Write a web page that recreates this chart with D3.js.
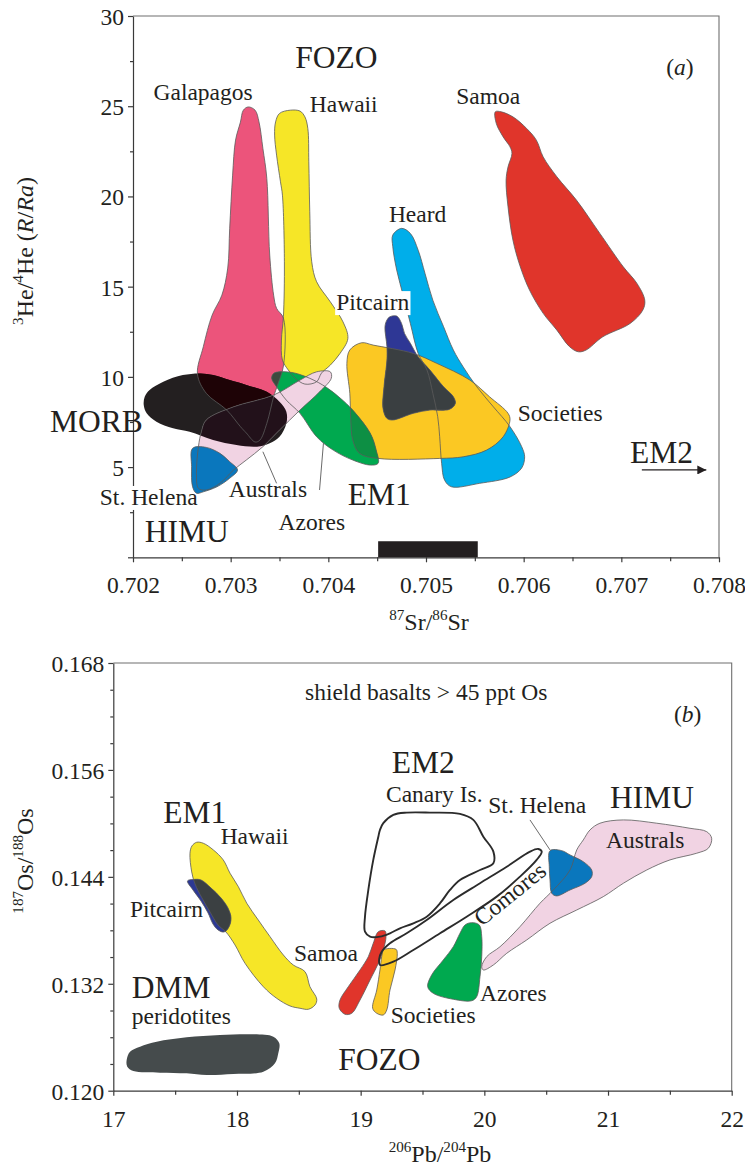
<!DOCTYPE html>
<html><head><meta charset="utf-8">
<script src="https://cdn.jsdelivr.net/npm/d3@7"></script>
<style>
html,body{margin:0;padding:0;background:#fff;}
svg{display:block;}
svg text{font-family:"Liberation Serif","Times New Roman",serif;}
</style></head><body>
<svg id="chart" width="745" height="1167"></svg>
<script>
// ---------- panel (a): 3He/4He vs 87Sr/86Sr ----------
const srTicks = [0.702, 0.703, 0.704, 0.705, 0.706, 0.707, 0.708];
const srMinor = [0.7025, 0.7035, 0.7045, 0.7055, 0.7065, 0.7075];
const heTicks = [0, 5, 10, 15, 20, 25, 30];
const heMinor = [2.5, 7.5, 12.5, 17.5, 22.5, 27.5];

const galapagosA = [[0.70313,24.78],[0.70318,24.96],[0.70325,24.78],[0.70329,24.13],[0.70333,22.66],[0.70337,21.0],[0.70340,16.75],[0.70344,14.53],[0.70347,13.8],[0.70354,13.26],[0.70354,10.6],[0.70348,9.55],[0.70344,8.9],[0.70337,7.42],[0.70330,6.5],[0.70325,6.39],[0.70316,6.89],[0.70310,7.24],[0.70296,8.16],[0.70275,9.09],[0.70266,10.16],[0.70272,11.67],[0.70281,13.42],[0.70291,14.53],[0.70297,16.03],[0.70299,18.24],[0.70302,21.18],[0.70305,23.12],[0.70310,24.12]];
const hawaiiA = [[0.70350,24.6],[0.70361,24.78],[0.70371,24.73],[0.70376,24.41],[0.70379,23.77],[0.70380,21.92],[0.70381,19.15],[0.70383,16.38],[0.70388,15.27],[0.70402,14.16],[0.70415,13.05],[0.70420,12.13],[0.70412,11.3],[0.70402,10.65],[0.70393,10.21],[0.70388,9.73],[0.70376,9.6],[0.70366,9.93],[0.70359,10.38],[0.70353,10.93],[0.70352,12.04],[0.70354,13.33],[0.70355,16.38],[0.70353,20.07],[0.70351,20.81],[0.70347,22.29],[0.70345,23.4],[0.70346,24.13]];
const morbA = [[0.70212,8.9],[0.70217,9.27],[0.70231,9.73],[0.70251,10.1],[0.70269,10.19],[0.70282,10.1],[0.70299,9.82],[0.70316,9.55],[0.70337,9.17],[0.70350,8.62],[0.70357,8.07],[0.70357,7.42],[0.70350,6.68],[0.70340,6.32],[0.70327,6.13],[0.70306,6.22],[0.70282,6.5],[0.70258,6.96],[0.70241,7.15],[0.70224,7.51],[0.70214,7.98],[0.70211,8.44]];
const australsA = [[0.70275,7.61],[0.70303,8.34],[0.70344,8.99],[0.70371,9.82],[0.70388,10.28],[0.70402,10.28],[0.70403,9.92],[0.70391,9.17],[0.70371,8.16],[0.70350,7.05],[0.70333,6.13],[0.70316,5.39],[0.70303,4.84],[0.70289,4.1],[0.70275,3.73],[0.70267,3.82],[0.70265,4.65],[0.70267,6.13],[0.70270,6.96]];
const stHelenaA = [[0.70261,6.04],[0.70275,6.09],[0.70289,5.76],[0.70299,5.3],[0.70307,4.84],[0.70299,4.38],[0.70286,3.91],[0.70272,3.63],[0.70265,3.55],[0.70261,3.91],[0.70260,5.02]];
const azoresA = [[0.70344,10.19],[0.70350,10.28],[0.70364,10.23],[0.70381,9.92],[0.70398,9.42],[0.70412,8.83],[0.70425,8.16],[0.70443,6.87],[0.70449,5.94],[0.70451,5.21],[0.70443,5.11],[0.70425,5.39],[0.70405,5.94],[0.70388,6.68],[0.70371,7.98],[0.70357,8.71],[0.70347,9.45],[0.70342,9.92]];
const societiesA = [[0.70434,11.89],[0.70422,11.49],[0.70419,10.75],[0.70422,9.09],[0.70423,7.61],[0.70425,6.5],[0.70432,5.76],[0.70451,5.48],[0.70514,5.48],[0.70538,5.57],[0.70562,5.94],[0.70579,6.68],[0.70586,7.61],[0.70584,7.98],[0.70565,8.9],[0.70545,9.82],[0.70511,10.75],[0.70487,11.3],[0.70446,11.76]];
const heardA = [[0.70475,18.23],[0.70484,17.95],[0.70492,17.02],[0.70499,15.73],[0.70507,14.25],[0.70518,12.78],[0.70528,11.49],[0.70538,10.56],[0.70552,9.45],[0.70569,8.34],[0.70586,7.24],[0.70598,6.13],[0.70601,5.57],[0.70598,4.95],[0.70586,4.45],[0.70555,4.1],[0.70526,3.91],[0.70519,4.28],[0.70516,5.21],[0.70514,6.68],[0.70512,7.79],[0.70507,9.09],[0.70501,10.38],[0.70492,11.3],[0.70484,12.96],[0.70477,14.44],[0.70470,15.92],[0.70466,17.21],[0.70466,17.86]];
const pitcairnA = [[0.70463,13.33],[0.70470,13.37],[0.70475,12.96],[0.70478,12.41],[0.70484,11.86],[0.70492,11.11],[0.70504,10.38],[0.70518,9.45],[0.70528,8.9],[0.70530,8.53],[0.70524,8.2],[0.70504,8.16],[0.70487,7.98],[0.70466,7.61],[0.70460,7.7],[0.70456,8.25],[0.70457,9.45],[0.70460,10.93],[0.70460,11.67],[0.70458,12.78],[0.70460,13.15]];
const samoaA = [[0.70571,24.69],[0.70577,24.69],[0.70589,24.41],[0.70603,23.77],[0.70613,23.12],[0.70620,22.19],[0.70634,21.09],[0.70654,19.8],[0.70678,17.95],[0.70702,16.1],[0.70716,15.18],[0.70724,14.25],[0.70722,13.7],[0.70709,12.96],[0.70681,12.22],[0.70664,11.49],[0.70656,11.39],[0.70647,11.67],[0.70634,12.59],[0.70620,13.52],[0.70606,14.81],[0.70596,16.19],[0.70589,17.58],[0.70584,19.42],[0.70582,20.9],[0.70584,21.64],[0.70588,22.38],[0.70586,22.75],[0.70579,23.3],[0.70572,24.04]];

// FOZO range bar on the Sr axis
const fozoSrRange = [0.70451, 0.70553];
const fozoBarHe = 0.89;
const em2ArrowA = [[0.70721,4.84],[0.70787,4.84]];
const leadersA = [
  [[0.70333,5.85],[0.70347,4.1]],   // Australs
  [[0.70395,6.32],[0.70391,3.73]]   // Azores
];

// ---------- panel (b): 187Os/188Os vs 206Pb/204Pb ----------
const pbTicks = [17, 18, 19, 20, 21, 22];
const pbMinor = [17.5, 18.5, 19.5, 20.5, 21.5];
const osTicks = [0.120, 0.132, 0.144, 0.156, 0.168];
const osMinor = [0.123,0.126,0.129,0.135,0.138,0.141,0.147,0.150,0.153,0.159,0.162,0.165];

const hawaiiB = [[17.674,0.14788],[17.728,0.14777],[17.809,0.14702],[17.889,0.14590],[17.944,0.14440],[18.011,0.14290],[18.079,0.14104],[18.172,0.13916],[18.267,0.13729],[18.375,0.13523],[18.455,0.13411],[18.550,0.13336],[18.590,0.13167],[18.645,0.13029],[18.631,0.12962],[18.577,0.12914],[18.510,0.12925],[18.429,0.12951],[18.321,0.13037],[18.213,0.13167],[18.065,0.13430],[17.984,0.13636],[17.911,0.13781],[17.847,0.13860],[17.782,0.14006],[17.717,0.14163],[17.661,0.14320],[17.634,0.14455],[17.620,0.14665],[17.636,0.14747]];
const pitcairnB = [[17.600,0.14354],[17.652,0.14371],[17.709,0.14365],[17.790,0.14275],[17.871,0.14163],[17.927,0.14051],[17.952,0.13939],[17.935,0.13838],[17.895,0.13781],[17.847,0.13804],[17.806,0.13871],[17.766,0.13995],[17.709,0.14129],[17.644,0.14253]];
const dmmB = [[17.108,0.12345],[17.135,0.12438],[17.216,0.12494],[17.351,0.12550],[17.593,0.12599],[17.863,0.12625],[18.132,0.12633],[18.294,0.12606],[18.342,0.12532],[18.334,0.12420],[18.307,0.12308],[18.213,0.12213],[17.970,0.12187],[17.755,0.12176],[17.593,0.12195],[17.378,0.12202],[17.162,0.12221],[17.113,0.12269]];
const samoaB = [[19.143,0.13785],[19.197,0.13793],[19.205,0.13729],[19.183,0.13579],[19.143,0.13430],[19.076,0.13243],[18.995,0.13018],[18.928,0.12869],[18.873,0.12858],[18.827,0.12925],[18.833,0.13018],[18.900,0.13167],[18.995,0.13355],[19.062,0.13504],[19.102,0.13655]];
const societiesB = [[19.183,0.13579],[19.286,0.13587],[19.296,0.13542],[19.278,0.13355],[19.237,0.13130],[19.211,0.12906],[19.183,0.12850],[19.130,0.12869],[19.097,0.12925],[19.130,0.13130],[19.156,0.13355],[19.170,0.13504]];
const azoresB = [[19.844,0.13860],[19.898,0.13886],[19.959,0.13860],[19.979,0.13729],[19.979,0.13504],[19.965,0.13280],[19.938,0.13055],[19.898,0.13010],[19.749,0.13026],[19.587,0.13093],[19.542,0.13167],[19.574,0.13299],[19.668,0.13467],[19.749,0.13616],[19.803,0.13767]];
const australsB = [[20.935,0.15002],[21.124,0.15039],[21.394,0.15002],[21.663,0.14945],[21.798,0.14907],[21.838,0.14833],[21.811,0.14721],[21.717,0.14665],[21.501,0.14590],[21.313,0.14477],[21.124,0.14328],[20.962,0.14178],[20.747,0.14028],[20.531,0.13879],[20.343,0.13692],[20.181,0.13542],[20.073,0.13411],[19.992,0.13355],[19.979,0.13392],[20.019,0.13504],[20.127,0.13616],[20.288,0.13841],[20.450,0.14104],[20.558,0.14253],[20.693,0.14477],[20.747,0.14702],[20.800,0.14814],[20.854,0.14926]];
const stHelenaB = [[20.531,0.14694],[20.626,0.14694],[20.693,0.14646],[20.800,0.14570],[20.868,0.14477],[20.868,0.14402],[20.814,0.14328],[20.693,0.14253],[20.585,0.14186],[20.545,0.14216],[20.531,0.14365],[20.525,0.14514]];
const canaryB = [[19.156,0.14926],[19.183,0.15002],[19.264,0.15095],[19.372,0.15121],[19.561,0.15121],[19.803,0.15106],[19.911,0.15039],[19.992,0.14851],[20.073,0.14683],[20.073,0.14553],[19.965,0.14477],[19.803,0.14365],[19.722,0.14253],[19.642,0.14104],[19.534,0.13953],[19.426,0.13879],[19.318,0.13823],[19.237,0.13767],[19.156,0.13729],[19.076,0.13729],[19.035,0.13785],[19.035,0.13953],[19.062,0.14253],[19.102,0.14590],[19.143,0.14851]];
const comoresB = [[19.156,0.13411],[19.264,0.13448],[19.426,0.13579],[19.642,0.13767],[19.857,0.13953],[20.100,0.14178],[20.288,0.14402],[20.423,0.14590],[20.464,0.14683],[20.436,0.14713],[20.369,0.14683],[20.181,0.14514],[19.965,0.14328],[19.749,0.14141],[19.534,0.13916],[19.372,0.13767],[19.237,0.13655],[19.170,0.13560],[19.150,0.13480]];
const leadersB = [
  [[20.369,0.15039],[20.531,0.14702]]   // St. Helena
];

// ---------- drawing ----------
const INK = '#231f20';
const svg = d3.select('#chart');
const defs = svg.append('defs');

defs.append('marker').attr('id','arrowHead').attr('viewBox','0 0 10 10')
  .attr('refX',10).attr('refY',5).attr('markerUnits','userSpaceOnUse')
  .attr('markerWidth',15).attr('markerHeight',9).attr('orient','auto')
  .append('path').attr('d','M0,0L10,5L0,10Z').attr('fill',INK);

function makeAxes(g, x, y, o) {
  const y0 = y.range()[0], y1 = y.range()[1];
  const x0 = x.range()[0], x1 = x.range()[1];
  // frame (top and right)
  g.append('path').attr('d',`M${x0},${y1}H${x1}V${y0}`).attr('fill','none')
    .attr('stroke','#6f6f6f').attr('stroke-width',1.1);
  // minor ticks
  g.append('g').attr('transform',`translate(0,${y0})`)
    .call(d3.axisBottom(x).tickValues(o.xMinor).tickSize(4).tickSizeOuter(0).tickFormat(''))
    .call(s=>s.select('.domain').remove());
  g.append('g').attr('transform',`translate(${x0},0)`)
    .call(d3.axisLeft(y).tickValues(o.yMinor).tickSize(3).tickSizeOuter(0).tickFormat(''))
    .call(s=>s.select('.domain').remove());
  // major ticks + labels
  const gx = g.append('g').attr('transform',`translate(0,${y0})`)
    .call(d3.axisBottom(x).tickValues(o.xTicks).tickSize(5).tickSizeOuter(0).tickPadding(o.xPad).tickFormat(o.xFmt));
  const gy = g.append('g').attr('transform',`translate(${x0},0)`)
    .call(d3.axisLeft(y).tickValues(o.yTicks).tickSize(5).tickSizeOuter(0).tickPadding(4).tickFormat(o.yFmt));
  [gx, gy].forEach(a => {
    a.attr('font-family', null).attr('font-size', null);
    a.selectAll('text').attr('font-size', 23.5).attr('fill', INK);
  });
  gy.selectAll('text').attr('dy','0.36em');
  g.selectAll('.domain, .tick line').attr('stroke','#3a3a3a').attr('stroke-width',1.2);
}

const line = (x, y) => d3.line().x(d => x(d[0])).y(d => y(d[1])).curve(d3.curveCatmullRomClosed.alpha(0.5));

function addText(g, px, py, parts, size, opts = {}) {
  const t = g.append('text').attr('x', px).attr('y', py).attr('font-size', size).attr('fill', INK);
  if (opts.anchor) t.attr('text-anchor', opts.anchor);
  if (opts.rotate) t.attr('transform', `rotate(${opts.rotate},${px},${py})`);
  let shift = 0;
  (typeof parts === 'string' ? [{t: parts}] : parts).forEach(p => {
    const s = t.append('tspan').text(p.t);
    const want = p.sup ? -size * 0.4 : 0;
    if (want - shift !== 0) s.attr('dy', want - shift);
    shift = want;
    if (p.sup) s.attr('font-size', size * 0.63);
    if (p.it) s.attr('font-style', 'italic');
  });
  if (opts.box) {
    const b = t.node().getBBox();
    g.insert('rect', () => t.node()).attr('x', b.x - 1).attr('y', b.y + 2)
      .attr('width', b.width + 2).attr('height', b.height - 2).attr('fill', '#fff');
  }
  return t;
}

function drawFields(g, x, y, fields, order) {
  const ln = line(x, y);
  const pid = {};
  fields.forEach(f => {
    pid[f.name] = f;
    defs.append('clipPath').attr('id', 'clip-' + f.id).append('path').attr('d', ln(f.pts));
  });
  order.forEach(item => {
    if (item.over) {
      const a = pid[item.a], b = pid[item.over];
      g.append('path').attr('d', ln(a.pts)).attr('fill', item.fill)
        .attr('clip-path', `url(#clip-${b.id})`);
    } else {
      const f = pid[item];
      g.append('path').attr('d', ln(f.pts)).attr('fill', f.fill);
    }
  });
  // field outlines drawn over all fills
  fields.forEach(f => {
    if (f.stroke === false) return;
    g.append('path').attr('d', ln(f.pts)).attr('fill', 'none')
      .attr('stroke', '#5b5b5b').attr('stroke-width', 0.8).attr('stroke-linejoin','round');
  });
}

const SMALL = 23.5, BIG = 31.5;

// ===== panel (a) =====
const xA = d3.scaleLinear().domain([0.702, 0.708]).range([133, 719]);
const yA = d3.scaleLinear().domain([0, 30]).range([557.3, 16]);
const gA = svg.append('g');

makeAxes(gA, xA, yA, {
  xTicks: srTicks, xMinor: srMinor, yTicks: heTicks, yMinor: heMinor,
  xFmt: d3.format('.3f'), yFmt: d => d === 0 ? '' : d, xPad: 14.5
});

// this label sits across the He axis, under the fields
addText(gA, xA(0.70166), yA(2.9), 'St. Helena', SMALL, {box: true});

const fieldsA = [
  {name:'Galapagos', id:'a-gal', pts: galapagosA, fill:'#ec547b'},
  {name:'Hawaii', id:'a-haw', pts: hawaiiA, fill:'#f6e627'},
  {name:'MORB', id:'a-morb', pts: morbA, fill:'#231f20', stroke:false},
  {name:'Heard', id:'a-heard', pts: heardA, fill:'#00aeea'},
  {name:'Societies', id:'a-soc', pts: societiesA, fill:'#fbc823'},
  {name:'Azores', id:'a-az', pts: azoresA, fill:'#00a94f'},
  {name:'Australs', id:'a-aus', pts: australsA, fill:'#f1d3e3'},
  {name:'St. Helena', id:'a-sth', pts: stHelenaA, fill:'#0a77bd'},
  {name:'Pitcairn', id:'a-pit', pts: pitcairnA, fill:'#2e3795'},
  {name:'Samoa', id:'a-sam', pts: samoaA, fill:'#e0352b'}
];
drawFields(gA, xA, yA, fieldsA, [
  'Galapagos', 'Hawaii', 'MORB',
  {a:'Galapagos', over:'MORB', fill:'#1e0306'},
  'Heard', 'Societies', 'Azores',
  {a:'Azores', over:'Societies', fill:'#0d8f44'},
  {a:'Azores', over:'Galapagos', fill:'#3d4a3e'},
  'Australs',
  {a:'Australs', over:'MORB', fill:'#22111a'},
  'St. Helena', 'Pitcairn',
  {a:'Pitcairn', over:'Societies', fill:'#3a3f41'},
  'Samoa'
]);

// FOZO bar
gA.append('rect').attr('x', xA(fozoSrRange[0])).attr('y', yA(fozoBarHe))
  .attr('width', xA(fozoSrRange[1]) - xA(fozoSrRange[0]))
  .attr('height', yA(0) - yA(fozoBarHe)).attr('fill', INK);

// leaders and EM2 arrow
leadersA.forEach(l => gA.append('line')
  .attr('x1', xA(l[0][0])).attr('y1', yA(l[0][1])).attr('x2', xA(l[1][0])).attr('y2', yA(l[1][1]))
  .attr('stroke', '#444').attr('stroke-width', 0.8));
gA.append('line').attr('x1', xA(em2ArrowA[0][0])).attr('y1', yA(em2ArrowA[0][1]))
  .attr('x2', xA(em2ArrowA[1][0])).attr('y2', yA(em2ArrowA[1][1]))
  .attr('stroke', INK).attr('stroke-width', 1.3).attr('marker-end', 'url(#arrowHead)');

const labelsA = [
  {t:'FOZO', x:0.70366, y:27.1, s:BIG},
  {t:'Galapagos', x:0.70221, y:25.33, s:SMALL},
  {t:'Hawaii', x:0.70381, y:24.67, s:SMALL},
  {t:'Samoa', x:0.70531, y:25.12, s:SMALL},
  {t:'Heard', x:0.70462, y:18.59, s:SMALL},
  {t:'Pitcairn', x:0.70408, y:13.7, s:SMALL, box:true},
  {t:'Societies', x:0.70594, y:7.57, s:SMALL},
  {t:'EM2', x:0.70709, y:5.21, s:BIG},
  {t:'MORB', x:0.70115, y:6.96, s:BIG},
  {t:'HIMU', x:0.70212, y:0.86, s:BIG},
  {t:'Australs', x:0.70298, y:3.36, s:SMALL},
  {t:'Azores', x:0.70349, y:1.51, s:SMALL},
  {t:'EM1', x:0.70420, y:2.9, s:BIG}
];
labelsA.forEach(l => addText(gA, xA(l.x), yA(l.y), l.t, l.s, {box: l.box}));
addText(gA, xA(0.70746), yA(26.72), [{t:'('},{t:'a',it:true},{t:')'}], SMALL);

// axis titles (a)
addText(gA, 429, 630, [{t:'87',sup:true},{t:'Sr/'},{t:'86',sup:true},{t:'Sr'}], 24, {anchor:'middle'});
addText(gA, 33, 251, [{t:'3',sup:true},{t:'He/'},{t:'4',sup:true},{t:'He ('},{t:'R',it:true},{t:'/'},{t:'Ra',it:true},{t:')'}], 24, {anchor:'middle', rotate:-90});

// ===== panel (b) =====
const xB = d3.scaleLinear().domain([17, 22]).range([113.3, 731.7]);
const yB = d3.scaleLinear().domain([0.120, 0.168]).range([1090.7, 663]);
const gB = svg.append('g');

makeAxes(gB, xB, yB, {
  xTicks: pbTicks, xMinor: pbMinor, yTicks: osTicks, yMinor: osMinor,
  xFmt: d3.format('d'), yFmt: d3.format('.3f'), xPad: 15
});

const fieldsB = [
  {name:'DMM', id:'b-dmm', pts: dmmB, fill:'#454b4c', stroke:false},
  {name:'Hawaii', id:'b-haw', pts: hawaiiB, fill:'#f6e627'},
  {name:'Pitcairn', id:'b-pit', pts: pitcairnB, fill:'#2c3894'},
  {name:'Samoa', id:'b-sam', pts: samoaB, fill:'#e0352b'},
  {name:'Societies', id:'b-soc', pts: societiesB, fill:'#fbc823'},
  {name:'Azores', id:'b-az', pts: azoresB, fill:'#00a94f'},
  {name:'Australs', id:'b-aus', pts: australsB, fill:'#f1d3e3'},
  {name:'St. Helena', id:'b-sth', pts: stHelenaB, fill:'#0a77bd'}
];
drawFields(gB, xB, yB, fieldsB, [
  'DMM', 'Hawaii', 'Pitcairn',
  {a:'Pitcairn', over:'Hawaii', fill:'#3b4042'},
  'Samoa', 'Societies', 'Azores', 'Australs', 'St. Helena'
]);

// open outlines: Canary Is. and Comores
const lnB = line(xB, yB);
[canaryB, comoresB].forEach(p => gB.append('path').attr('d', lnB(p)).attr('fill', 'none')
  .attr('stroke', '#2b2b2b').attr('stroke-width', 1.9).attr('stroke-linejoin', 'round'));

leadersB.forEach(l => gB.append('line')
  .attr('x1', xB(l[0][0])).attr('y1', yB(l[0][1])).attr('x2', xB(l[1][0])).attr('y2', yB(l[1][1]))
  .attr('stroke', '#444').attr('stroke-width', 0.8));

const labelsB = [
  {t:'shield basalts > 45 ppt Os', x:18.55, y:0.16386, s:SMALL},
  {t:'EM2', x:19.251, y:0.15560, s:BIG},
  {t:'Canary Is.', x:19.205, y:0.15240, s:SMALL},
  {t:'St. Helena', x:20.032, y:0.15114, s:SMALL},
  {t:'HIMU', x:21.016, y:0.15170, s:BIG},
  {t:'Australs', x:20.984, y:0.14721, s:SMALL},
  {t:'EM1', x:17.404, y:0.15002, s:BIG},
  {t:'Hawaii', x:17.868, y:0.14769, s:SMALL},
  {t:'Pitcairn', x:17.135, y:0.13950, s:SMALL},
  {t:'Samoa', x:18.461, y:0.13456, s:SMALL},
  {t:'DMM', x:17.149, y:0.13037, s:BIG},
  {t:'peridotites', x:17.149, y:0.12749, s:SMALL},
  {t:'FOZO', x:18.819, y:0.12232, s:BIG},
  {t:'Societies', x:19.243, y:0.12757, s:SMALL},
  {t:'Azores', x:19.965, y:0.13010, s:SMALL}
];
labelsB.forEach(l => addText(gB, xB(l.x), yB(l.y), l.t, l.s));
addText(gB, xB(19.981), yB(0.13838), 'Comores', SMALL, {rotate:-39});
addText(gB, xB(21.533), yB(0.16142), [{t:'('},{t:'b',it:true},{t:')'}], SMALL);

// axis titles (b)
addText(gB, 440, 1161.7, [{t:'206',sup:true},{t:'Pb/'},{t:'204',sup:true},{t:'Pb'}], 24, {anchor:'middle'});
addText(gB, 33, 861, [{t:'187',sup:true},{t:'Os/'},{t:'188',sup:true},{t:'Os'}], 24, {anchor:'middle', rotate:-90});
</script>
</body></html>
